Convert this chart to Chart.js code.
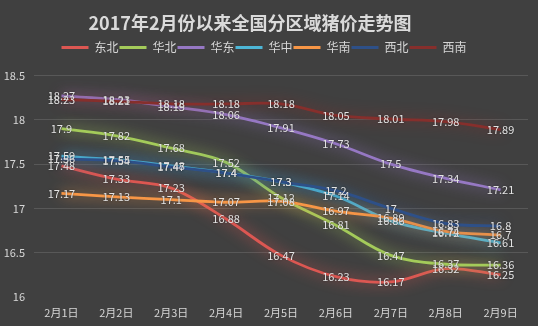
<!DOCTYPE html>
<html>
<head>
<meta charset="utf-8">
<script src="https://cdn.jsdelivr.net/npm/chart.js@4"></script>
<style>
  html, body { margin: 0; padding: 0; background: #404040; }
  canvas { display: block; }
</style>
</head>
<body>
<canvas id="c" width="538" height="326"></canvas>
<script>
const titleText = '2017年2月份以来全国分区域猪价走势图';
const categories = ['2月1日', '2月2日', '2月3日', '2月4日', '2月5日', '2月6日', '2月7日', '2月8日', '2月9日'];
const seriesNames = ['东北', '华北', '华东', '华中', '华南', '西北', '西南'];
const dongbei = [17.48, 17.33, 17.23, 16.88, 16.47, 16.23, 16.17, 16.32, 16.25];
const huabei  = [17.9, 17.82, 17.68, 17.52, 17.12, 16.81, 16.47, 16.37, 16.36];
const huadong = [18.27, 18.23, 18.15, 18.06, 17.91, 17.73, 17.5, 17.34, 17.21];
const huazhong = [17.59, 17.55, 17.48, 17.4, 17.3, 17.14, 16.86, 16.72, 16.61];
const huanan  = [17.17, 17.13, 17.1, 17.07, 17.08, 16.97, 16.89, 16.74, 16.7];
const xibei   = [17.56, 17.54, 17.47, 17.4, 17.3, 17.2, 17, 16.83, 16.8];
const xinan   = [18.23, 18.21, 18.18, 18.18, 18.18, 18.05, 18.01, 17.98, 17.89];
const yTicks = [16, 16.5, 17, 17.5, 18, 18.5];

const seriesValues = [dongbei, huabei, huadong, huazhong, huanan, xibei, xinan];
const seriesColors = ['#dc5752', '#a4cb5a', '#9678c4', '#4db6d6', '#f79646', '#2e5088', '#862f2c'];

const FONT = '"Noto Sans CJK SC", "Microsoft YaHei", sans-serif';
Chart.defaults.font.family = FONT;

const glowPlugin = {
  id: 'glow',
  beforeDatasetDraw(chart, args) {
    const ctx = chart.ctx;
    ctx.save();
    ctx.shadowColor = args.meta.dataset.options.borderColor;
    ctx.shadowBlur = 14;
  },
  afterDatasetDraw(chart) {
    chart.ctx.restore();
  }
};

const valueLabels = {
  id: 'valueLabels',
  afterDatasetsDraw(chart) {
    const ctx = chart.ctx;
    ctx.save();
    ctx.font = '11px ' + FONT;
    ctx.fillStyle = '#e4e4e4';
    ctx.textAlign = 'center';
    ctx.textBaseline = 'middle';
    ctx.shadowColor = 'rgba(0,0,0,0.45)';
    ctx.shadowBlur = 2;
    chart.data.datasets.forEach((ds, i) => {
      const meta = chart.getDatasetMeta(i);
      meta.data.forEach((pt, j) => {
        ctx.fillText(String(ds.data[j]), pt.x, pt.y);
      });
    });
    ctx.restore();
  }
};

const titleShift = {
  id: 'titleShift',
  afterLayout(chart) {
    if (chart.titleBlock) chart.titleBlock.right -= 28;
  }
};

new Chart(document.getElementById('c'), {
  type: 'line',
  data: {
    labels: categories,
    datasets: seriesNames.map((name, i) => ({
      label: name,
      data: seriesValues[i],
      borderColor: seriesColors[i],
      backgroundColor: seriesColors[i],
      borderWidth: 2.8,
      pointRadius: 0,
      pointHoverRadius: 0,
      tension: 0.35,
      fill: false,
      order: seriesNames.length - i
    }))
  },
  options: {
    responsive: false,
    animation: false,
    devicePixelRatio: 1,
    layout: { padding: { left: 0, right: 10, top: 0, bottom: 0 } },
    plugins: {
      tooltip: { enabled: false },
      title: {
        display: true,
        text: titleText,
        color: '#dadada',
        font: { size: 18, weight: 'bold', family: FONT },
        padding: { top: 12, bottom: 7 }
      },
      legend: {
        display: true,
        position: 'top',
        labels: {
          color: '#d6d6d6',
          font: { size: 12, family: FONT },
          boxWidth: 27,
          boxHeight: 3,
          padding: 1,
          sort: (a, b) => a.datasetIndex - b.datasetIndex,
          generateLabels(chart) {
            return Chart.defaults.plugins.legend.labels.generateLabels(chart).map(l => Object.assign(l, { lineWidth: 0 }));
          }
        }
      }
    },
    scales: {
      x: {
        type: 'category',
        offset: true,
        grid: { display: false, drawTicks: false },
        border: { display: false },
        ticks: { color: '#d6d6d6', font: { size: 11 }, padding: 9, maxRotation: 0 },
        afterFit(s) { s.height = 29; }
      },
      xTop: {
        type: 'category',
        position: 'top',
        display: true,
        grid: { display: false, drawTicks: false },
        border: { display: false },
        ticks: { display: false },
        afterFit(s) { s.height = 12; }
      },
      y: {
        min: yTicks[0],
        max: yTicks[yTicks.length - 1],
        afterBuildTicks(s) { s.ticks = yTicks.map(v => ({ value: v })); },
        grid: {
          drawTicks: false,
          color: c => (c.tick && c.tick.value === yTicks[0]) ? 'rgba(0,0,0,0)' : '#585858',
          lineWidth: 1
        },
        border: { display: false },
        ticks: {
          color: '#d6d6d6',
          font: { size: 11 },
          padding: 9,
          callback: v => String(v)
        },
        afterFit(s) { s.width = 34; }
      }
    }
  },
  plugins: [glowPlugin, valueLabels, titleShift]
});
</script>
</body>
</html>
